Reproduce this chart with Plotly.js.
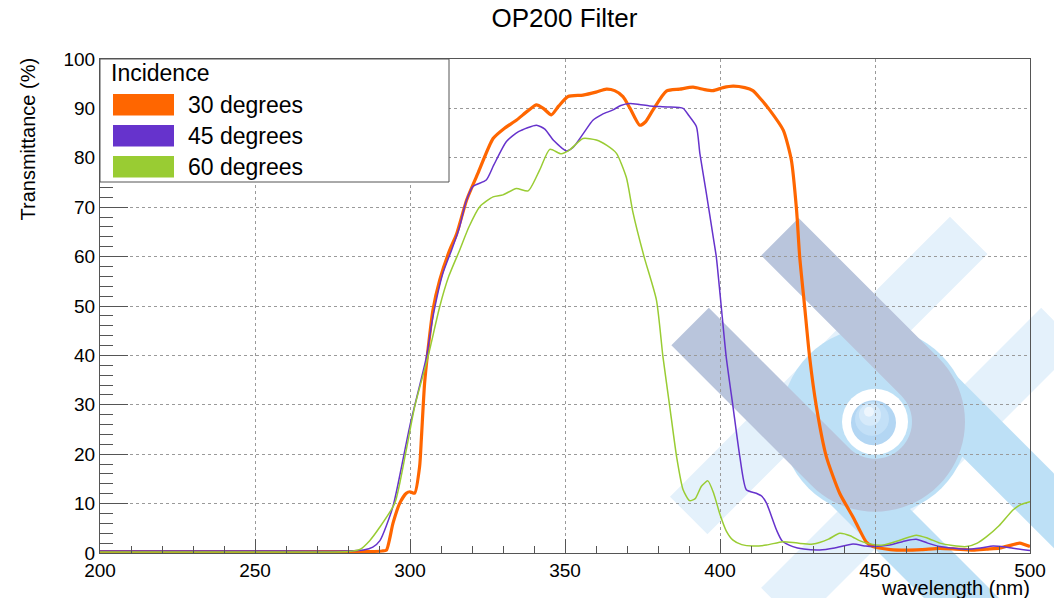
<!DOCTYPE html>
<html>
<head>
<meta charset="utf-8">
<script src="https://cdn.plot.ly/plotly-3.0.1.min.js"></script>
<style>html,body{margin:0;padding:0;background:#fff;}#chart{width:1054px;height:598px;}</style>
</head>
<body>
<div id="chart"></div>
<script>
// ---------- data ----------
const chartTitle = "OP200 Filter";
const xTitle = "wavelength (nm)";
const yTitle = "Transmittance (%)";
const legendTitle = "Incidence";
const seriesNames = ["30 degrees", "45 degrees", "60 degrees"];
const seriesColors = ["#ff6600", "#6633cc", "#99cc33"];

const wl30 = [200,250,280,287,291,292.4,294.5,296.7,298.8,300,301.5,303.1,303.7,304.7,305.8,307.4,309.6,312.8,315,318.3,322,326.8,330.5,334.3,338,340.8,343,345.6,348,351,355.8,360,363.3,366,368.7,371,374.1,376,378.4,382.7,387,391.3,395,397.7,401,404.2,408,410.6,413,416,420.4,423,424.7,425.7,427.3,428.9,431.1,434.3,438.6,442.9,445,447.2,449.3,455,460,465,470.9,476,481.6,486,490.2,494,496.7,500];
const t30  = [0.3,0.3,0.3,0.3,0.4,0.6,6.0,10.1,12.1,12.4,12.1,17.5,23.5,34.3,41.1,49.2,55.3,61.3,64.5,71.5,77,83.9,86,87.6,89.5,90.7,90,88.7,90.5,92.4,92.7,93.3,93.9,93.6,92.4,90,86.6,87.3,89.7,93.5,93.9,94.3,93.8,93.6,94.2,94.5,94.2,93.6,92,89.7,85.6,79.6,69.4,60,49.9,39.7,29.6,19.5,12.1,7.3,4.7,2.2,1.3,0.7,0.6,0.7,0.95,0.8,0.6,0.8,1.0,1.6,2.0,1.3];

const wl45 = [200,250,280,285,288,290.3,294.5,299.9,305.3,307.4,310.6,313.4,316,318,320.3,324.6,327,331.1,335,340.8,343.5,346.2,350.5,352.6,356,359,362,365.5,368,370.9,374,377.3,383,388.1,390,392.4,393.5,395.6,397.8,398.8,400.4,402,404.2,406.4,408.5,411.7,413.5,415,418.2,420,423.5,427,432.2,437,442.9,447,449.3,454.7,460,463.3,467,470.9,475,479.5,484,488.1,492,494.5,500];
const t45  = [0.4,0.4,0.4,0.6,1.2,2.5,9.4,25.6,39.7,47.8,56.6,61.3,66,71,74.2,75.5,78.5,83.3,85.3,86.6,85.8,83.6,81.4,82.1,85,87.6,88.8,89.7,90.6,91.0,90.8,90.5,90.3,90.0,88.5,86.3,80.9,72.8,64.0,60,49.9,39.7,29.6,19.5,12.8,12.1,11.5,10.1,4.7,2.5,1.3,0.8,0.6,1.0,1.8,1.4,1.3,1.6,2.5,2.8,2.0,1.3,1.0,0.75,1.0,1.4,1.2,0.95,0.5];

const wl60 = [200,250,280,284,287,290,295.1,298.8,301.5,305.8,309.6,312.5,316,319,322.5,326.8,330,334.3,338.1,341.8,345.1,348.8,351.5,355.8,360.1,363.5,366.6,369.8,371.9,375.5,379.5,381.6,383.8,386,388.1,390.2,392,394,396.1,398,399.9,402,404.2,407,410.6,415,420.3,425,430,435,438.6,442,445,448,452.6,458,463.3,467,470.9,475,479.5,483,486,490,494.5,497,500];
const t60  = [0.2,0.2,0.3,0.8,2.5,5.0,10.1,20.9,29.6,39.7,49.9,56,61.3,66,70.1,72.1,72.5,73.8,73.3,77.5,81.7,80.8,81.6,83.9,83.6,82.5,80.9,76,69,60,51.2,39.7,29.6,19.5,12.8,10.6,11,13.5,14.6,12,8.0,4.5,2.6,1.7,1.4,1.6,2.3,2.0,1.8,2.8,4.0,3.5,2.5,1.9,1.6,2.6,3.6,3.0,2.0,1.5,1.3,2.0,3.3,5.5,8.7,9.8,10.4];

// ---------- layout helpers (pixel -> paper) ----------
const PL = 100, PR = 1030, PT = 59, PB = 553;
const PW = PR - PL, PH = PB - PT;
const fx = x => (x - PL) / PW;
const fy = y => (PB - y) / PH;
const FONT = "Liberation Sans, Arial, Helvetica, sans-serif";

const traces = [
  {x: wl30, y: t30, name: seriesNames[0], color: seriesColors[0], w: 3.2},
  {x: wl45, y: t45, name: seriesNames[1], color: seriesColors[1], w: 1.5},
  {x: wl60, y: t60, name: seriesNames[2], color: seriesColors[2], w: 1.5}
].map(s => ({
  type: "scatter", mode: "lines", x: s.x, y: s.y, name: s.name,
  line: {color: s.color, width: s.w, shape: "spline", smoothing: 0.6},
  showlegend: false, hoverinfo: "x+y+name"
}));

// ---------- watermark logo (decoration) ----------
const CX = 875, CY = 421.7, S2 = Math.SQRT2;
function P(u, v) { return [CX + (u + v) / S2, CY + (u - v) / S2]; }
function pathFrom(pts) {
  return "M " + pts.map(p => fx(p[0]).toFixed(5) + "," + fy(p[1]).toFixed(5)).join(" L ") + " Z";
}
function rectUV(u0, u1, v0, v1) { return pathFrom([P(u0, v0), P(u1, v0), P(u1, v1), P(u0, v1)]); }
function circ(cx, cy, r, fill) {
  return {type: "circle", xref: "paper", yref: "paper", layer: "below",
    x0: fx(cx - r), x1: fx(cx + r), y0: fy(cy + r), y1: fy(cy - r),
    fillcolor: fill, line: {width: 0}};
}
function uShape(R, r, len) {
  const pts = [];
  pts.push(P(-len, R));
  for (let i = 0; i <= 40; i++) { const th = Math.PI / 2 - Math.PI * i / 40; pts.push(P(R * Math.cos(th), R * Math.sin(th))); }
  pts.push(P(-len, -R));
  pts.push(P(-len, -r));
  for (let i = 0; i <= 30; i++) { const th = -Math.PI / 2 + Math.PI * i / 30; pts.push(P(r * Math.cos(th), r * Math.sin(th))); }
  pts.push(P(-len, r));
  return pathFrom(pts);
}
const VL = "#e4f1fb", LB = "#bde0f6", GR = "#b9c5dc";
const pathShape = (p, fill) => ({type: "path", xref: "paper", yref: "paper", layer: "below", path: p, fillcolor: fill, line: {width: 0}});
const logoShapes = [
  pathShape(rectUV(-92, -39, -198, 198), VL),
  pathShape(rectUV(37, 90, -198, 198), VL),
  pathShape(rectUV(0, 260, 37, 90), LB),
  pathShape(rectUV(0, 260, -90, -37), LB),
  circ(CX, CY, 94, LB),
  pathShape(uShape(90, 37, 198), GR),
  circ(CX, CY, 33, "#ffffff"),
  circ(CX - 1.5, CY + 1, 22.5, "#b3d6f3"),
  circ(CX - 3, CY - 3, 17, "#c3e0f7"),
  circ(CX - 5, CY - 7, 11, "#d6eafa"),
  circ(CX - 6, CY - 10, 5, "#eef6fd")
];

// ---------- custom legend ----------
const legendShapes = [
  {type: "rect", xref: "paper", yref: "paper", layer: "above",
   x0: fx(100), x1: fx(449), y0: fy(182), y1: fy(59),
   fillcolor: "#ffffff", line: {color: "#555555", width: 1}}
];
const legendAnn = [
  {text: legendTitle, x: fx(109), y: fy(73), xanchor: "left", yanchor: "middle"}
];
const boxTops = [94, 125, 156];
seriesNames.forEach((n, i) => {
  legendShapes.push({type: "rect", xref: "paper", yref: "paper", layer: "above",
    x0: fx(113), x1: fx(174), y0: fy(boxTops[i] + 21.5), y1: fy(boxTops[i]),
    fillcolor: seriesColors[i], line: {width: 0}});
  legendAnn.push({text: n, x: fx(186), y: fy(boxTops[i] + 11), xanchor: "left", yanchor: "middle"});
});

const annotations = legendAnn.map(a => Object.assign({xref: "paper", yref: "paper", showarrow: false,
  font: {family: FONT, size: 23, color: "#000"}}, a));
annotations.push({text: yTitle, xref: "paper", yref: "paper", x: fx(27), y: fy(139.5),
  xanchor: "center", yanchor: "middle", textangle: -90, showarrow: false,
  font: {family: FONT, size: 20, color: "#000"}});
annotations.push({text: xTitle, xref: "paper", yref: "paper", x: fx(1032), y: fy(588),
  xanchor: "right", yanchor: "middle", showarrow: false,
  font: {family: FONT, size: 20, color: "#000"}});

const axisCommon = {
  showline: true, linecolor: "#555555", linewidth: 1, mirror: true,
  ticks: "inside", tickcolor: "#555555", tickwidth: 1,
  showgrid: true, gridcolor: "#9a9a9a", griddash: "dot", gridwidth: 1,
  zeroline: false, tickfont: {family: FONT, size: 19, color: "#000"}
};

const layout = {
  width: 1054, height: 598,
  margin: {l: PL, r: 1054 - PR, t: PT, b: 598 - PB, pad: 0},
  paper_bgcolor: "#ffffff", plot_bgcolor: "rgba(0,0,0,0)",
  title: {text: chartTitle, x: 564.5 / 1054, xanchor: "center", y: 1 - 18 / 598, yanchor: "middle",
    font: {family: FONT, size: 26, color: "#000"}},
  xaxis: Object.assign({}, axisCommon, {range: [200, 500], dtick: 50, tick0: 200, ticklen: 14,
    minor: {dtick: 10, ticks: "inside", ticklen: 7, tickcolor: "#555555", showgrid: false}}),
  yaxis: Object.assign({}, axisCommon, {range: [0, 100], dtick: 10, tick0: 0, ticklen: 28,
    minor: {dtick: 2, ticks: "inside", ticklen: 13, tickcolor: "#555555", showgrid: false}}),
  shapes: logoShapes.concat(legendShapes),
  annotations: annotations,
  showlegend: false,
  font: {family: FONT}
};

Plotly.newPlot("chart", traces, layout, {staticPlot: true, displayModeBar: false});
</script>
</body>
</html>
